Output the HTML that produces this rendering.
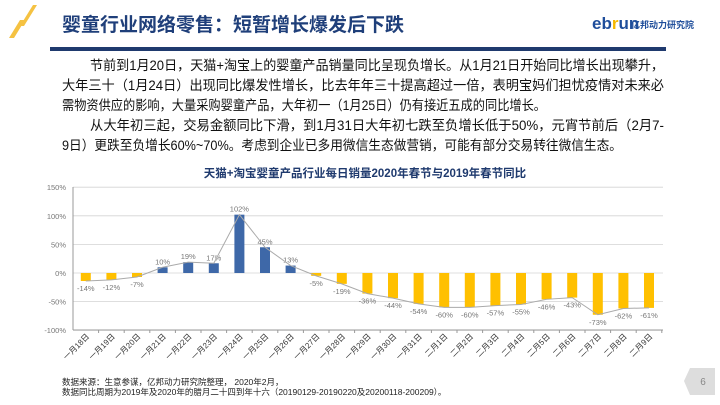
<!DOCTYPE html>
<html><head><meta charset="utf-8"><style>
body{margin:0;width:720px;height:405px;background:#fff;overflow:hidden;position:relative;font-family:"Liberation Sans","Noto Sans CJK SC",sans-serif}
.t{position:absolute;left:62px;top:10px;font-size:19px;font-weight:bold;color:#1f3f7a}
.f{position:absolute;left:62px;top:377px;font-size:8.5px;line-height:10px;color:#222}
</style></head><body>
<svg style="position:absolute;left:0;top:0" width="720" height="405" font-family="Liberation Sans, Noto Sans CJK SC, sans-serif">
<polygon points="33,5 37,5 24,26 20,26" fill="#f5c242"/>
<polygon points="20,20 25,20 14,38 9,38" fill="#f5c242"/>
<rect x="50" y="47" width="616" height="4" fill="#1f3a6e"/>
<text x="592" y="29" font-size="17" font-weight="bold" fill="#1f4e9b">eb<tspan fill="#f5b800">r</tspan>un</text>
<text x="631" y="28" font-size="9" font-weight="bold" fill="#1f4e9b">亿邦动力研究院</text>
<polygon points="690,368 715,368 715,395 690,395 684,381" fill="#ddd"/>
<text x="703" y="385" font-size="10" fill="#888" text-anchor="middle">6</text>
<g font-size="13.5" fill="#111" lengthAdjust="spacingAndGlyphs">
<text x="90" y="70" textLength="574" lengthAdjust="spacingAndGlyphs">节前到1月20日，天猫+淘宝上的婴童产品销量同比呈现负增长。从1月21日开始同比增长出现攀升，</text>
<text x="62" y="90" textLength="602" lengthAdjust="spacingAndGlyphs">大年三十（1月24日）出现同比爆发性增长，比去年年三十提高超过一倍，表明宝妈们担忧疫情对未来必</text>
<text x="62" y="110" textLength="484" lengthAdjust="spacingAndGlyphs">需物资供应的影响，大量采购婴童产品，大年初一（1月25日）仍有接近五成的同比增长。</text>
<text x="90" y="130" textLength="574" lengthAdjust="spacingAndGlyphs">从大年初三起，交易金额同比下滑，到1月31日大年初七跌至负增长低于50%，元宵节前后（2月7-</text>
<text x="62" y="150" textLength="560" lengthAdjust="spacingAndGlyphs">9日）更跌至负增长60%~70%。考虑到企业已多用微信生态做营销，可能有部分交易转往微信生态。</text>
</g>
</svg>
<div class="t">婴童行业网络零售：短暂增长爆发后下跌</div>
<svg id="c" style="position:absolute;left:0;top:0" width="720" height="405" font-family="Liberation Sans, Noto Sans CJK SC, sans-serif"></svg>
<div class="f">数据来源：生意参谋，亿邦动力研究院整理， 2020年2月，<br>数据同比周期为2019年及2020年的腊月二十四到年十六（20190129-20190220及20200118-200209）。</div>
<script>
const v=[-14,-12,-7,10,19,17,102,45,13,-5,-19,-36,-44,-54,-60,-60,-57,-55,-46,-43,-73,-62,-61];
const cats=["一月18日","一月19日","一月20日","一月21日","一月22日","一月23日","一月24日","一月25日","一月26日","一月27日","一月28日","一月29日","一月30日","一月31日","二月1日","二月2日","二月3日","二月4日","二月5日","二月6日","二月7日","二月8日","二月9日"];
const x0=73,cw=25.6,y0=273,k=0.572;
let s=`<text x="365" y="177" font-size="11.5" font-weight="bold" fill="#1f3a6e" text-anchor="middle">天猫+淘宝婴童产品行业每日销量2020年春节与2019年春节同比</text>`;
[150,100,50,0,-50,-100].forEach(t=>{const y=y0-t*k;s+=`<line x1="${x0}" x2="663" y1="${y}" y2="${y}" stroke="#d4d4d4" stroke-width="0.8"/><text x="66" y="${y+3}" font-size="7.5" fill="#777" text-anchor="end">${t}%</text>`});
s+=`<line x1="${x0}" x2="${x0}" y1="187" y2="330" stroke="#999"/><line x1="${x0}" x2="663" y1="330" y2="330" stroke="#999"/>`;
let pts=[];
v.forEach((d,i)=>{const cx=x0+cw*(i+.5),y=y0-d*k;pts.push(cx+","+y);
s+=`<rect x="${cx-5}" y="${Math.min(y,y0)}" width="10" height="${Math.abs(d*k)}" fill="${d>0?'#3e68a8':'#ffc000'}"/>`;
s+=`<line x1="${x0+cw*(i+1)}" x2="${x0+cw*(i+1)}" y1="330" y2="333" stroke="#999"/>`;
const ly=d>0?y-3:y+10;s+=`<text x="${cx}" y="${ly}" font-size="7.5" fill="#777" text-anchor="middle">${d}%</text>`;
s+=`<text transform="translate(${cx+4},337) rotate(-45)" font-size="8" fill="#333" text-anchor="end">${cats[i]}</text>`;});
s+=`<polyline points="${pts.join(' ')}" fill="none" stroke="#aaa" stroke-width="1"/>`;
document.getElementById('c').innerHTML=s;
</script>
</body></html>
